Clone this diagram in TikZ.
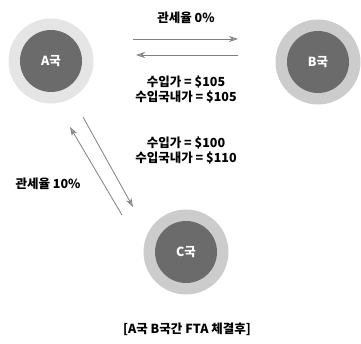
\documentclass[tikz,border=0pt]{standalone}
\usepackage{fontspec}
\setmainfont{Noto Sans CJK KR}
\usetikzlibrary{arrows.meta}
\begin{document}
\begin{tikzpicture}[x=1pt,y=-1pt,
  inner/.style={circle,fill=black!58,minimum size=62pt,inner sep=0pt,text=white,font=\fontsize{12.5}{13}\selectfont\bfseries},
  halo/.style={circle,fill=black!20,minimum size=85pt,inner sep=0pt},
  lbl/.style={font=\fontsize{12.5}{14}\selectfont\bfseries,inner sep=0pt,align=center},
  arr/.style={draw=black!50,line width=0.8pt,-{Stealth[length=9pt,width=6pt,open,fill=black!25]}}]
\useasboundingbox (0,0) rectangle (361,344);
\node[halo,fill=black!10] (Ah) at (51,61) {};
\node[inner] (A) at (51,61) {A국};
\node[halo] (Bh) at (318,62) {};
\node[inner] (B) at (318,62) {B국};
\node[halo] (Ch) at (186,252) {};
\node[inner] (C) at (186,252) {C국};
\node[lbl] (t0) at (186,18) {관세율 0\%};
\node[lbl] (t1) at (186,89) {수입가 = \$105\\[1pt]수입국내가 = \$105};
\node[lbl] (t2) at (186,150) {수입가 = \$100\\[1pt]수입국내가 = \$110};
\node[lbl] (t3) at (48,184) {관세율 10\%};
\node[lbl] (t4) at (187,329) {[A국 B국간 FTA 체결후]};
\coordinate (h1s) at (133,39);
\coordinate (h1e) at (238,39);
\coordinate (h2s) at (238,55);
\coordinate (h2e) at (136,55);
\coordinate (d1s) at (122,215);
\coordinate (d1e) at (70,127);
\coordinate (d2s) at (83,117);
\coordinate (d2e) at (133,207);
\draw[arr] (h1s) -- (h1e);
\draw[arr] (h2s) -- (h2e);
\draw[arr] (d1s) -- (d1e);
\draw[arr] (d2s) -- (d2e);
\end{tikzpicture}
\end{document}
